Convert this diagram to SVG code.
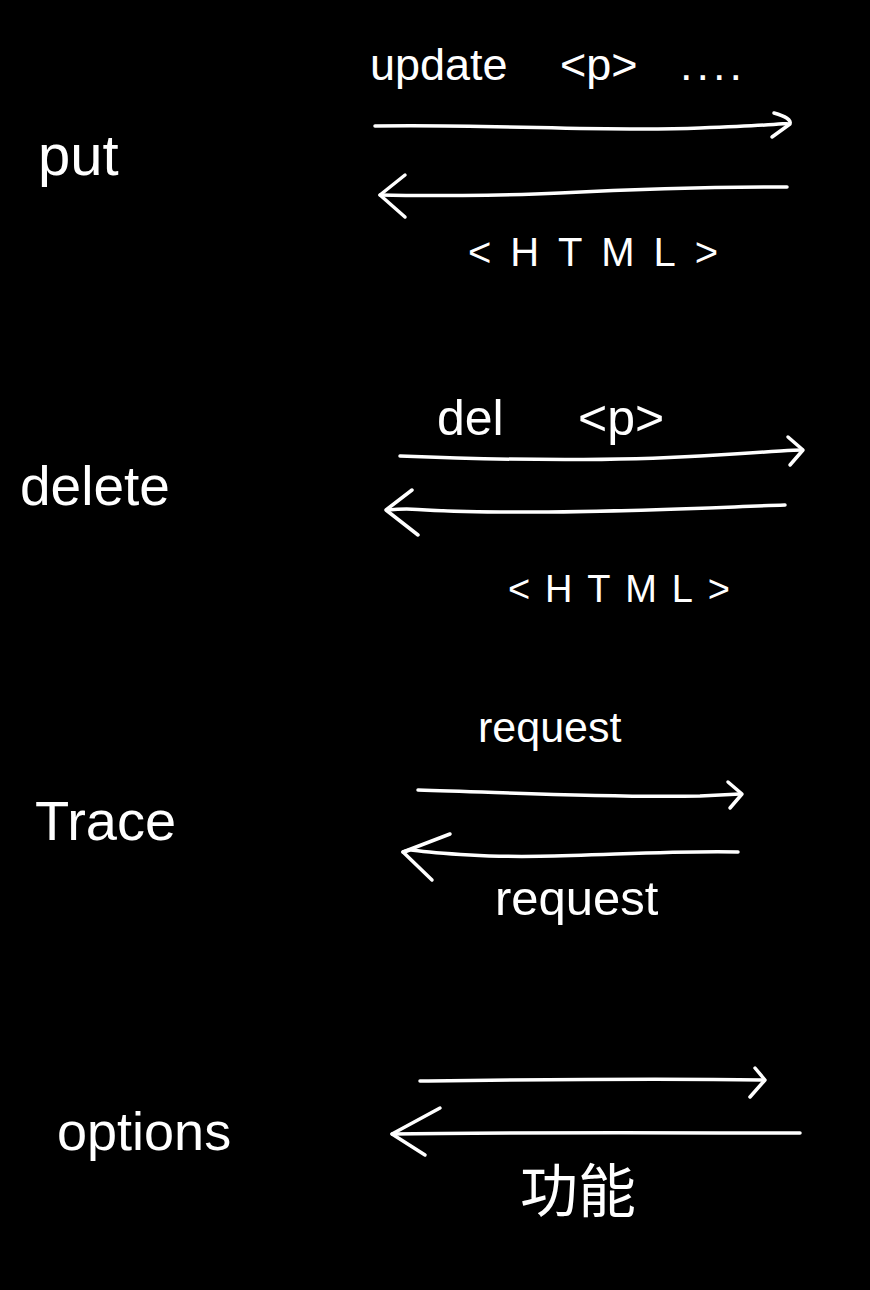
<svg xmlns="http://www.w3.org/2000/svg" width="870" height="1290" viewBox="0 0 870 1290">
<style>
.t{fill:#fff;font-family:"Liberation Sans","Noto Sans CJK SC",sans-serif;}
.c{fill:none;stroke:#fff;stroke-width:3.5;stroke-linecap:round;stroke-linejoin:round;}
</style>
<rect width="870" height="1290" fill="#000"/>
<g id="put">
<text class="t" x="38" y="175" font-size="58">put</text>
<text class="t" y="80" font-size="45"><tspan x="370">update</tspan><tspan x="560">&lt;p&gt;</tspan><tspan x="680" textLength="62">....</tspan></text>
<text class="t" x="468" y="266" font-size="40" textLength="250" lengthAdjust="spacing">&lt;HTML&gt;</text>
</g>
<g id="delete">
<text class="t" x="20" y="505" font-size="55">delete</text>
<text class="t" y="435" font-size="50"><tspan x="437">del</tspan><tspan x="578">&lt;p&gt;</tspan></text>
<text class="t" x="508" y="602" font-size="38" textLength="222" lengthAdjust="spacing">&lt;HTML&gt;</text>
</g>
<g id="trace">
<text class="t" x="35" y="840" font-size="56">Trace</text>
<text class="t" x="478" y="742" font-size="43">request</text>
<text class="t" x="495" y="915" font-size="49">request</text>
</g>
<g id="options">
<text class="t" x="57" y="1150" font-size="54">options</text>
<text class="t" x="520" y="1212" font-size="58">功能</text>
</g>
<g id="connectors">
<path class="c" d="M375,126 C500,124 600,132 700,128 S780,123 788,124"/>
<path class="c" d="M774,113 Q792,118 790,124 L772,137"/>
<path class="c" d="M787,187 C700,187 620,190 560,193 S420,196 380,195"/>
<path class="c" d="M405,175 L380,195 L405,217"/>
<path class="c" d="M400,456 C500,460 600,462 700,456 S790,450 802,450"/>
<path class="c" d="M788,437 L803,450 L790,465"/>
<path class="c" d="M785,505 C700,508 600,513 500,512 S420,507 388,510"/>
<path class="c" d="M412,490 L386,510 L418,535"/>
<path class="c" d="M418,790 C500,792 600,798 700,796 L740,794"/>
<path class="c" d="M728,782 L742,794 L730,808"/>
<path class="c" d="M738,852 C650,850 550,860 470,855 S420,848 403,852"/>
<path class="c" d="M450,834 L403,852 L432,880"/>
<path class="c" d="M420,1081 C500,1080 650,1078 762,1080"/>
<path class="c" d="M755,1068 L765,1080 L750,1097"/>
<path class="c" d="M800,1133 C700,1133 500,1132 392,1134"/>
<path class="c" d="M440,1108 L392,1134 L425,1155"/>
</g>
</svg>
